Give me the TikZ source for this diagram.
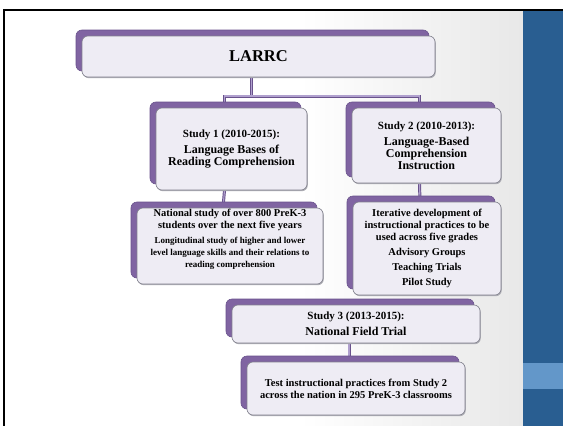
\documentclass[tikz,border=0pt]{standalone}
\usepackage{fontspec}
\setmainfont{Liberation Serif}
\usetikzlibrary{shadows,backgrounds}
\definecolor{bpurple}{RGB}{128,100,162}
\definecolor{dpurple}{RGB}{105,82,140}
\definecolor{lpurple}{RGB}{176,160,206}
\definecolor{boxedge}{RGB}{128,128,140}
\definecolor{boxfill}{RGB}{238,236,244}
\definecolor{bgray}{RGB}{232,232,232}
\definecolor{sgray}{RGB}{175,175,182}
\definecolor{dblue}{RGB}{41,94,145}
\definecolor{lblue}{RGB}{99,151,201}
\newcommand\fsTitle{\fontsize{11}{13}\selectfont}
\newcommand\fsName{\fontsize{12}{13}\selectfont}
\newcommand\fsMain{\fontsize{10.5}{12}\selectfont}
\newcommand\fsSmall{\fontsize{9}{10.5}\selectfont}
\tikzset{
  box/.style={draw=boxedge, line width=0.6pt, fill=boxfill, rounded corners=6pt,
    inner sep=0pt, align=center, font=\bfseries\fsMain,
    copy shadow={shadow xshift=-6pt, shadow yshift=6pt, fill=bpurple, draw=dpurple, line width=0.6pt},
    copy shadow={shadow xshift=0.8pt, shadow yshift=-1.2pt, fill=sgray, draw=none}},
  connouter/.style={draw=dpurple, line width=3pt},
  conninner/.style={draw=lpurple, line width=1.1pt},
}
\newcommand\connpaths[1]{%
  \draw[#1] ([xshift=-7pt]larrc.south) -- (hub);
  \draw[#1] ([xshift=-7pt]s1.north) |- (hub) -| ([xshift=-7pt]s2.north);
  \draw[#1] ([xshift=-7pt]s1.south) -- ([xshift=-7pt]s1sub.north);
  \draw[#1] ([xshift=-7pt]s2.south) -- ([xshift=-7pt]s2sub.north);
  \draw[#1] ([xshift=-7pt]s3.south) -- ([xshift=-7pt]s4.north);
}
\begin{document}
\begin{tikzpicture}[x=1pt,y=-1pt]
\useasboundingbox (0,0) rectangle (563,426);
\begin{scope}[on background layer]
  \fill[white] (0,0) rectangle (563,426);
  \shade[left color=white, right color=bgray] (300,11) rectangle (523,426);
\end{scope}
% blue side panel
\fill[dblue] (523,11) rectangle (563,426);
\fill[lblue] (523,363) rectangle (563,389);
% black frame lines
\draw[black, line width=2pt] (3,10) -- (563,10);
\draw[black, line width=2pt] (4,9) -- (4,426);
% boxes
\node[box, minimum width=353pt, minimum height=41pt] (larrc) at (258.5,56.5)
  {\fontsize{16.5}{18}\selectfont LARRC};
\node[box, minimum width=151pt, minimum height=82pt] (s1) at (231.5,149)
  {{\fsTitle Study 1 (2010-2015):}\\[4pt]{\fsName Language Bases of}\\{\fsName Reading Comprehension}};
\node[box, minimum width=149pt, minimum height=75pt] (s2) at (426.5,145.5)
  {{\fsTitle Study 2 (2010-2013):}\\[4pt]{\fsName Language-Based}\\{\fsName Comprehension}\\{\fsName Instruction}};
\node[box, minimum width=186pt, minimum height=76pt] (s1sub) at (230,246)
  {{\fsMain National study of over 800 PreK-3}\\{\fsMain students over the next five years}\\[3pt]{\fsSmall Longitudinal study of higher and lower}\\{\fsSmall level language skills and their relations to}\\{\fsSmall reading comprehension}\\[4pt]};
\node[box, minimum width=148pt, minimum height=93pt] (s2sub) at (427,248.5)
  {Iterative development of\\instructional practices to be\\used across five grades\\[3pt]Advisory Groups\\[3pt]Teaching Trials\\[3pt]Pilot Study};
\node[box, minimum width=248pt, minimum height=38pt] (s3) at (356,324)
  {{\fsTitle Study 3 (2013-2015):}\\[4pt]{\fsName National Field Trial}};
\node[box, minimum width=218pt, minimum height=53pt] (s4) at (356,388.5)
  {Test instructional practices from Study 2\\across the nation in 295 PreK-3 classrooms};
\coordinate (hub) at (251.5,96);
\begin{scope}[on background layer]
  \connpaths{connouter}
  \connpaths{conninner}
\end{scope}
\end{tikzpicture}
\end{document}
